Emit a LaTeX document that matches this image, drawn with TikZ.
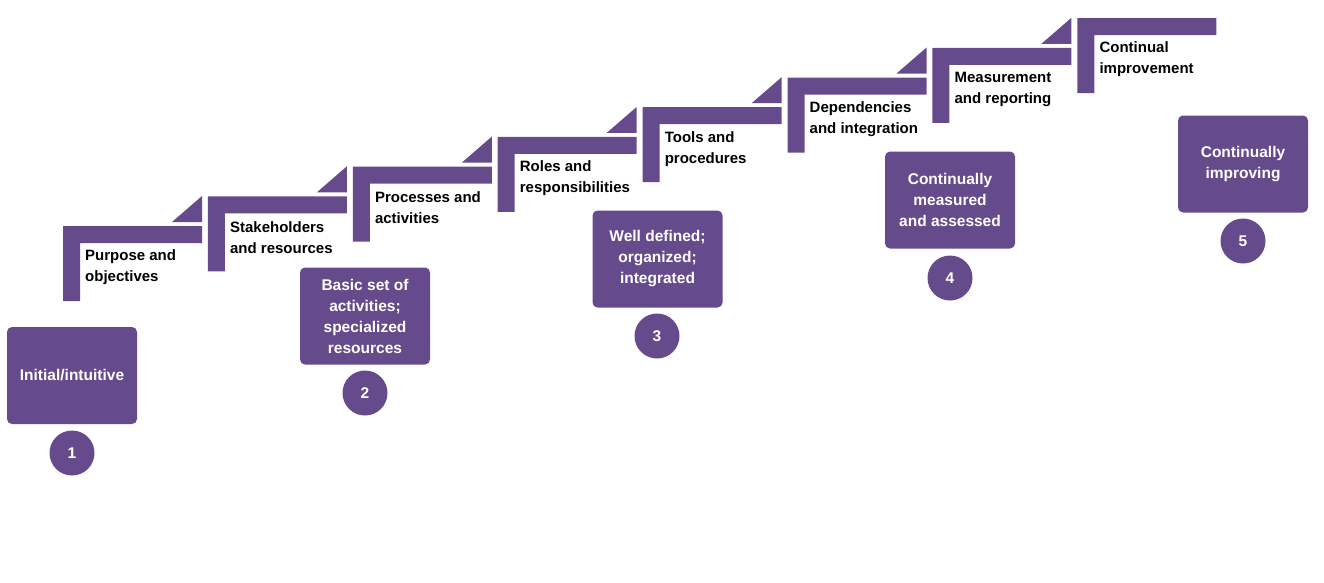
\documentclass[tikz,border=0pt]{standalone}
\usepackage{fontspec}
\setmainfont{Liberation Sans}
\definecolor{purp}{RGB}{101,75,140}
\begin{document}
\begin{tikzpicture}[x=1pt,y=-1pt,
  steplabel/.style={anchor=west,align=left,font=\bfseries\fontsize{15}{21}\selectfont,text=black,inner sep=0pt},
  stagebox/.style={fill=purp,rounded corners=5pt,minimum width=130pt,minimum height=97pt,align=center,text=white,font=\bfseries\fontsize{15.5}{21}\selectfont,inner sep=2pt},
  numdot/.style={circle,fill=purp,minimum size=45pt,inner sep=0pt,text=white,font=\bfseries\fontsize{15.5}{18}\selectfont}]
\useasboundingbox (0,0) rectangle (1324,582);
\foreach \k/\txt in {0/{Purpose and\\objectives},1/{Stakeholders\\and resources},2/{Processes and\\activities},3/{Roles and\\responsibilities},4/{Tools and\\procedures},5/{Dependencies\\and integration},6/{Measurement\\and reporting},7/{Continual\\improvement}}{
  \pgfmathsetmacro{\L}{63+144.9*\k}
  \pgfmathsetmacro{\T}{226-29.7*\k}
  \fill[purp] (\L,\T+75) -- (\L,\T) -- (\L+139,\T) -- (\L+139,\T+17) -- (\L+17,\T+17) -- (\L+17,\T+75) -- cycle;
  \ifnum\k<7
    \fill[purp] (\L+109,\T-4) -- (\L+139,\T-4) -- (\L+139,\T-30) -- cycle;
  \fi
  \node[steplabel] (s\k) at (\L+22,\T+41.5) {\txt};
}
\node[stagebox] (b1) at (72,375.5) {Initial/intuitive};
\node[stagebox] (b2) at (365,316) {Basic set of\\activities;\\specialized\\resources};
\node[stagebox] (b3) at (657.5,259) {Well defined;\\organized;\\integrated};
\node[stagebox] (b4) at (950,200) {Continually\\measured\\and assessed};
\node[stagebox] (b5) at (1243,164) {Continually\\improving};
\node[numdot] (n1) at (72,453) {1};
\node[numdot] (n2) at (365,393) {2};
\node[numdot] (n3) at (657,336) {3};
\node[numdot] (n4) at (950,278) {4};
\node[numdot] (n5) at (1243,241) {5};
\end{tikzpicture}
\end{document}
